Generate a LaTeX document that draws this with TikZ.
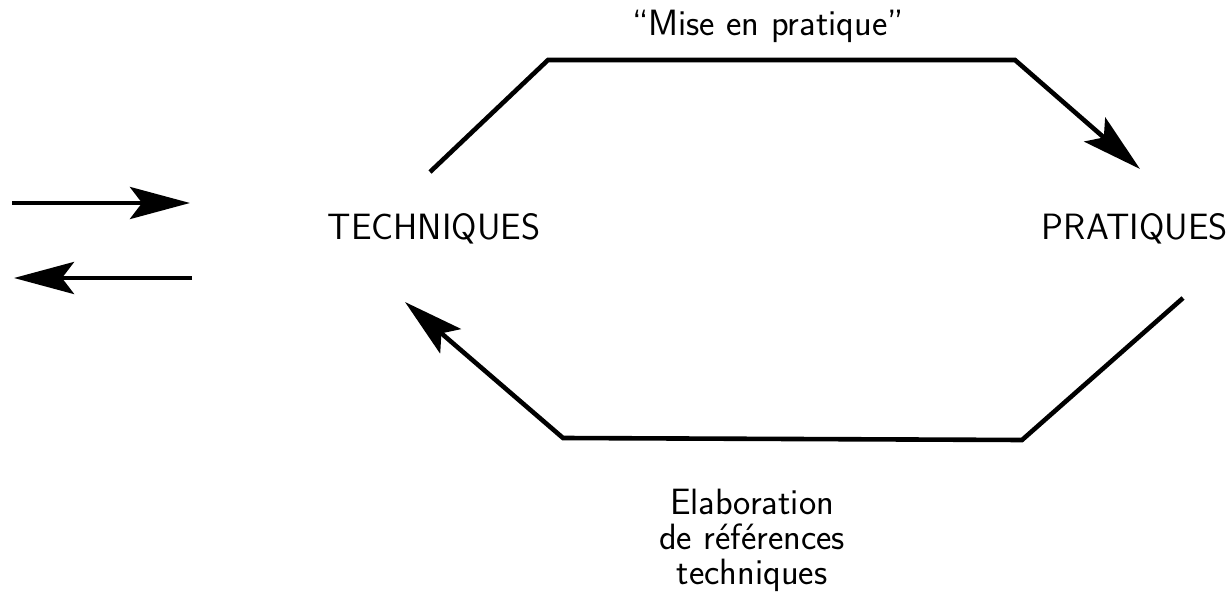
\documentclass[tikz,border=0pt]{standalone}
\usepackage{tikz}
\usetikzlibrary{arrows.meta,positioning}
\tikzset{
  flow/.style={line width=2.3pt, line join=miter, -{Stealth[length=30pt,width=16pt,inset=6pt]}},
  lbl/.style={font=\sffamily\fontsize{18.3}{17.5}\selectfont, inner sep=0pt, align=center}
}

\begin{document}
\begin{tikzpicture}[x=0.5pt,y=-0.5pt]
  \useasboundingbox (0,0) rectangle (1231,598);
  % labels
  \node[lbl, anchor=base] (tech) at (434,240) {TECHNIQUES};
  \node[lbl, anchor=base east] (prat) at (1228,240) {PRATIQUES};
  \node[lbl, anchor=base] (mise) at (768,36) {``Mise en pratique''};
  \node[lbl, anchor=north] (elab) at (752,489) {Elaboration\\ de r\'ef\'erences\\ techniques};
  % path corners
  \coordinate (t0) at (430,172);
  \coordinate (t1) at (548,60);
  \coordinate (t2) at (1015,60);
  \coordinate (t3) at (1140,169);
  \coordinate (b0) at (1183,298);
  \coordinate (b1) at (1022,440);
  \coordinate (b2) at (563,438);
  \coordinate (b3) at (405,302);
  \draw[flow] (t0) -- (t1) -- (t2) -- (t3);
  \draw[flow] (b0) -- (b1) -- (b2) -- (b3);
  % legend arrows
  \foreach \y/\a/\b in {203/12/190,278/192/14} {
    \coordinate (l\y a) at (\a,\y);
    \coordinate (l\y b) at (\b,\y);
    \draw[flow] (l\y a) -- (l\y b);
  }
\end{tikzpicture}
\end{document}
